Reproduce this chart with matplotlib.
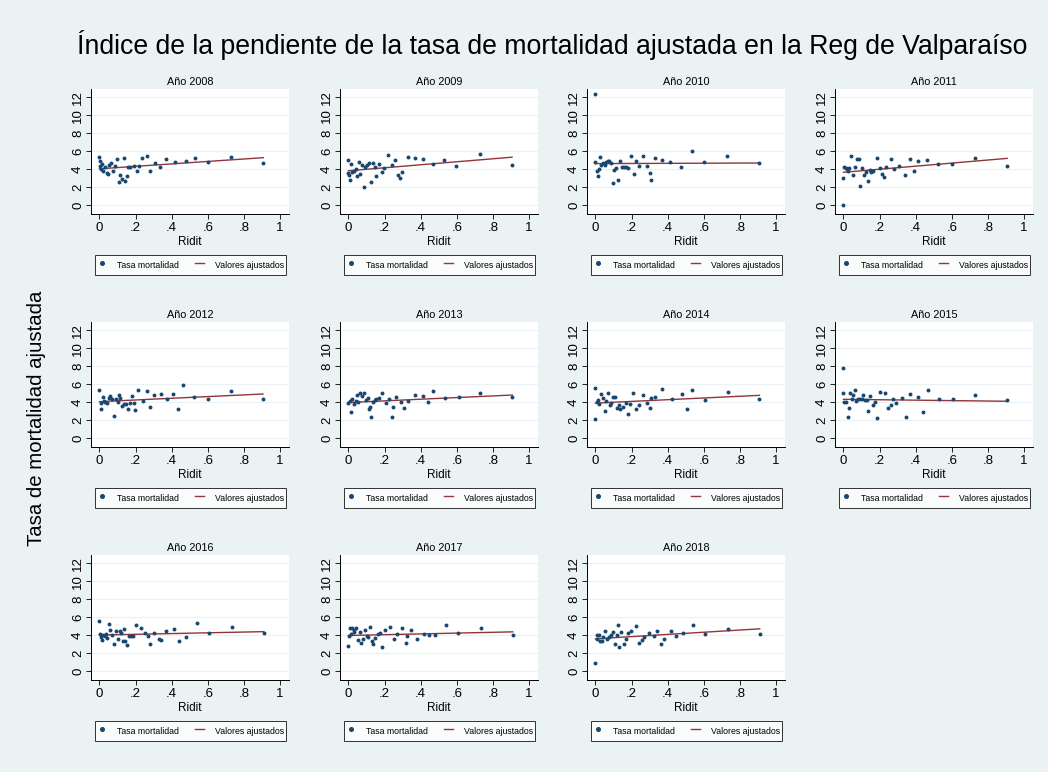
import numpy as np
import matplotlib
matplotlib.use('Agg')
import matplotlib.pyplot as plt
from matplotlib.lines import Line2D

plt.rcParams['font.family'] = ['Liberation Sans', 'DejaVu Sans']

# ridit (x) and adjusted mortality rate (y) per commune, one pair of lists per year
ridit_2008 = [0, 0.002, 0.004, 0.007, 0.013, 0.02, 0.031, 0.04, 0.048, 0.055, 0.064, 0.074, 0.086, 0.097, 0.107, 0.116, 0.123, 0.134, 0.143, 0.151, 0.158, 0.169, 0.19, 0.208, 0.219, 0.237, 0.265, 0.281, 0.307, 0.338, 0.368, 0.419, 0.478, 0.529, 0.599, 0.728, 0.908]
tasa_2008 = [5.37, 4.4, 4.9, 4.07, 4.6, 3.8, 4.2, 3.6, 3.5, 4.5, 4.67, 3.85, 4.37, 5.1, 2.6, 3.33, 2.9, 5.2, 2.7, 3.2, 4.2, 4.2, 4.37, 3.8, 4.4, 5.2, 5.5, 3.85, 4.74, 4.26, 5.1, 4.85, 4.96, 5.2, 4.85, 5.4, 4.74]

ridit_2009 = [0, 0, 0.004, 0.009, 0.015, 0.02, 0.03, 0.04, 0.048, 0.057, 0.066, 0.075, 0.084, 0.094, 0.103, 0.116, 0.125, 0.136, 0.145, 0.154, 0.169, 0.183, 0.198, 0.217, 0.239, 0.26, 0.277, 0.283, 0.297, 0.327, 0.367, 0.413, 0.47, 0.53, 0.598, 0.728, 0.906]
tasa_2009 = [5.0, 3.63, 3.33, 2.8, 4.6, 3.74, 3.8, 4.0, 3.26, 4.8, 3.44, 4.48, 2.04, 4.3, 4.44, 4.74, 2.55, 4.74, 4.3, 3.22, 4.63, 3.67, 4.19, 5.56, 4.48, 5.07, 3.33, 3.07, 3.7, 5.4, 5.26, 5.1, 4.6, 5.04, 4.4, 5.67, 4.44]

ridit_2010 = [0, 0, 0.007, 0.013, 0.018, 0.026, 0.033, 0.04, 0.05, 0.059, 0.068, 0.077, 0.086, 0.095, 0.105, 0.116, 0.127, 0.136, 0.149, 0.16, 0.171, 0.182, 0.198, 0.213, 0.224, 0.239, 0.262, 0.288, 0.303, 0.308, 0.332, 0.371, 0.415, 0.472, 0.532, 0.6, 0.728, 0.908]
tasa_2010 = [4.77, 12.4, 3.85, 3.23, 4.0, 5.35, 4.5, 4.7, 4.5, 4.77, 4.96, 4.92, 4.65, 2.42, 3.92, 4.1, 2.8, 4.96, 4.23, 4.27, 4.23, 4.15, 5.42, 3.5, 4.96, 4.38, 5.42, 4.35, 3.54, 2.85, 5.2, 5.04, 4.85, 4.23, 6.04, 4.85, 5.5, 4.73]

ridit_2011 = [0, 0, 0.005, 0.013, 0.018, 0.024, 0.031, 0.042, 0.053, 0.064, 0.073, 0.084, 0.093, 0.104, 0.115, 0.125, 0.136, 0.145, 0.154, 0.165, 0.187, 0.205, 0.214, 0.225, 0.238, 0.264, 0.282, 0.306, 0.339, 0.368, 0.388, 0.414, 0.465, 0.526, 0.6, 0.729, 0.907]
tasa_2011 = [0.0, 3.07, 4.26, 4.19, 4.0, 3.8, 4.1, 5.48, 3.33, 4.26, 5.1, 5.1, 2.19, 4.19, 3.4, 3.7, 2.7, 3.93, 3.7, 3.8, 5.3, 4.19, 3.44, 3.15, 4.22, 5.19, 4.0, 4.33, 3.4, 5.19, 3.85, 4.93, 5.04, 4.63, 4.56, 5.3, 4.33]

ridit_2012 = [0, 0.006, 0.011, 0.017, 0.024, 0.033, 0.04, 0.05, 0.059, 0.07, 0.081, 0.09, 0.1, 0.108, 0.114, 0.123, 0.134, 0.145, 0.158, 0.169, 0.182, 0.193, 0.199, 0.215, 0.239, 0.263, 0.281, 0.303, 0.342, 0.373, 0.408, 0.436, 0.463, 0.524, 0.601, 0.728, 0.906]
tasa_2012 = [5.33, 3.26, 3.93, 4.6, 4.15, 4.04, 3.93, 4.52, 4.7, 4.37, 2.48, 4.4, 4.04, 4.82, 4.48, 3.6, 3.81, 3.85, 3.22, 3.93, 4.7, 3.93, 3.19, 5.33, 4.15, 5.22, 3.44, 4.78, 4.89, 4.4, 4.89, 3.26, 5.96, 4.6, 4.37, 5.3, 4.33]

ridit_2013 = [0, 0.006, 0.013, 0.02, 0.029, 0.039, 0.046, 0.053, 0.062, 0.073, 0.086, 0.095, 0.106, 0.114, 0.121, 0.127, 0.136, 0.145, 0.154, 0.169, 0.185, 0.207, 0.226, 0.239, 0.248, 0.266, 0.292, 0.306, 0.327, 0.367, 0.413, 0.44, 0.468, 0.536, 0.613, 0.73, 0.908]
tasa_2013 = [3.93, 4.15, 2.93, 4.37, 3.85, 4.15, 4.82, 4.0, 5.0, 4.7, 5.0, 4.22, 4.52, 3.3, 3.44, 2.33, 4.04, 4.22, 4.37, 4.48, 5.0, 3.93, 4.37, 2.41, 3.44, 4.63, 4.04, 3.37, 4.15, 4.82, 4.7, 4.04, 5.26, 4.44, 4.63, 5.07, 4.56]

ridit_2014 = [0, 0, 0.007, 0.015, 0.022, 0.029, 0.039, 0.05, 0.061, 0.072, 0.081, 0.088, 0.097, 0.11, 0.117, 0.128, 0.138, 0.15, 0.169, 0.18, 0.189, 0.207, 0.226, 0.239, 0.261, 0.286, 0.3, 0.306, 0.328, 0.367, 0.424, 0.48, 0.508, 0.536, 0.606, 0.732, 0.908]
tasa_2014 = [5.59, 2.11, 4.0, 4.26, 3.81, 4.93, 4.48, 3.04, 4.15, 5.0, 3.7, 3.89, 4.56, 4.59, 3.33, 3.7, 3.22, 3.44, 3.96, 2.74, 3.85, 5.0, 3.22, 3.67, 4.85, 3.96, 3.33, 4.52, 4.63, 5.44, 4.33, 4.96, 3.26, 5.33, 4.26, 5.11, 4.33]

ridit_2015 = [0, 0, 0.005, 0.013, 0.024, 0.031, 0.038, 0.048, 0.055, 0.062, 0.071, 0.082, 0.092, 0.103, 0.11, 0.121, 0.128, 0.136, 0.147, 0.161, 0.174, 0.185, 0.201, 0.229, 0.247, 0.262, 0.277, 0.293, 0.322, 0.344, 0.368, 0.414, 0.441, 0.469, 0.529, 0.606, 0.731, 0.907]
tasa_2015 = [7.78, 5.0, 4.04, 4.0, 2.33, 3.33, 5.0, 4.37, 4.82, 5.33, 4.19, 4.37, 4.37, 4.37, 4.78, 4.26, 4.26, 3.07, 4.74, 3.74, 4.07, 2.3, 5.15, 5.04, 3.41, 3.74, 4.33, 3.89, 4.44, 2.37, 4.93, 4.63, 2.93, 5.33, 4.41, 4.33, 4.82, 4.26]

ridit_2016 = [0, 0.004, 0.009, 0.015, 0.02, 0.028, 0.035, 0.04, 0.05, 0.059, 0.07, 0.081, 0.092, 0.101, 0.112, 0.121, 0.129, 0.136, 0.143, 0.151, 0.162, 0.176, 0.184, 0.202, 0.228, 0.252, 0.267, 0.278, 0.3, 0.329, 0.342, 0.368, 0.415, 0.441, 0.478, 0.539, 0.607, 0.733, 0.91]
tasa_2016 = [5.63, 4.11, 3.78, 3.48, 4.0, 3.89, 4.11, 3.67, 5.3, 4.63, 4.04, 3.0, 4.52, 3.59, 4.44, 4.26, 3.41, 4.67, 3.41, 2.96, 3.93, 3.93, 3.93, 5.11, 4.81, 4.3, 3.89, 3.07, 4.3, 3.56, 3.48, 4.52, 4.74, 3.41, 3.85, 5.37, 4.26, 4.89, 4.22]

ridit_2017 = [0, 0.004, 0.009, 0.015, 0.02, 0.028, 0.033, 0.042, 0.053, 0.062, 0.072, 0.083, 0.092, 0.101, 0.11, 0.119, 0.128, 0.136, 0.149, 0.163, 0.176, 0.187, 0.204, 0.231, 0.25, 0.268, 0.294, 0.317, 0.325, 0.347, 0.38, 0.417, 0.444, 0.481, 0.541, 0.609, 0.736, 0.91]
tasa_2017 = [2.81, 3.93, 4.78, 4.11, 4.78, 4.41, 4.63, 4.78, 3.52, 4.33, 3.15, 3.56, 4.63, 3.89, 3.78, 4.89, 3.33, 3.07, 3.7, 4.11, 4.22, 2.67, 4.56, 4.96, 3.63, 4.19, 4.85, 3.11, 3.93, 4.56, 3.56, 4.19, 4.04, 4.04, 5.11, 4.22, 4.85, 4.0]

ridit_2018 = [0, 0.006, 0.011, 0.017, 0.024, 0.035, 0.044, 0.053, 0.064, 0.075, 0.084, 0.095, 0.106, 0.117, 0.125, 0.13, 0.141, 0.156, 0.167, 0.18, 0.198, 0.226, 0.242, 0.255, 0.27, 0.297, 0.323, 0.343, 0.365, 0.382, 0.417, 0.444, 0.483, 0.543, 0.609, 0.736, 0.91]
tasa_2018 = [0.93, 3.63, 4.04, 4.0, 3.37, 3.37, 3.81, 4.52, 3.63, 3.81, 4.0, 4.41, 3.07, 4.0, 5.11, 2.74, 4.33, 3.04, 3.63, 4.3, 4.52, 5.04, 3.19, 3.48, 3.85, 4.26, 3.96, 4.52, 3.04, 3.63, 4.44, 3.93, 4.22, 5.15, 4.19, 4.74, 4.11]

years = [2008, 2009, 2010, 2011, 2012, 2013, 2014, 2015, 2016, 2017, 2018]
ridits = [ridit_2008, ridit_2009, ridit_2010, ridit_2011, ridit_2012, ridit_2013,
          ridit_2014, ridit_2015, ridit_2016, ridit_2017, ridit_2018]
tasas = [tasa_2008, tasa_2009, tasa_2010, tasa_2011, tasa_2012, tasa_2013,
         tasa_2014, tasa_2015, tasa_2016, tasa_2017, tasa_2018]

xticks = [0, 0.2, 0.4, 0.6, 0.8, 1]
xticklabels = ['0', '.2', '.4', '.6', '.8', '1']
yticks = [0, 2, 4, 6, 8, 10, 12]

# stata s2color look
bg = '#EAF2F3'
navy = '#1A476F'
maroon = '#90353B'

W, H = 1048, 772
fig = plt.figure(figsize=(W / 100, H / 100), dpi=100, facecolor=bg)

def box(left, top, width, height):
    return [left / W, 1 - (top + height) / H, width / W, height / H]

col_left = [91, 340, 587, 835]
row_top = [89, 322, 555]
pw, ph = 198, 125

for i, year in enumerate(years):
    r, c = divmod(i, 4)
    left, top = col_left[c], row_top[r]
    ax = fig.add_axes(box(left, top, pw, ph))
    ax.set_facecolor('white')

    x = np.array(ridits[i])
    y = np.array(tasas[i])
    ax.scatter(x, y, s=8, color=navy, linewidths=0, zorder=3)

    # linear fit over the observed range
    b, a = np.polyfit(x, y, 1)
    xf = np.array([x.min(), x.max()])
    ax.plot(xf, a + b * xf, color=maroon, lw=1.0, zorder=2)

    ax.set_xlim(-0.047, 1.05)
    ax.set_ylim(-0.97, 12.92)
    ax.set_xticks(xticks)
    ax.set_xticklabels(xticklabels)
    ax.set_yticks(yticks)
    ax.set_yticklabels([str(v) for v in yticks], rotation=90, va='center')
    ax.tick_params(labelsize=9.5, length=3.5, width=0.6, pad=1.5, color='black')
    ax.tick_params(axis='x', pad=2.5)
    ax.grid(axis='y', color=bg, lw=0.9)
    ax.set_axisbelow(True)
    for s in ['top', 'right']:
        ax.spines[s].set_visible(False)
    for s in ['left', 'bottom']:
        ax.spines[s].set_linewidth(0.7)
    ax.set_xlabel('Ridit', fontsize=8.5, labelpad=1.5)
    ax.set_title('Año %d' % year, fontsize=7.8, pad=3)

    handles = [Line2D([], [], marker='o', ls='none', color=navy, markersize=2.6),
               Line2D([], [], color=maroon, lw=1.0)]
    leg = ax.legend(handles, ['Tasa mortalidad', 'Valores ajustados'], ncol=2,
                    loc='lower left', mode='expand',
                    bbox_to_anchor=box(left + 4, top + ph + 41, 191, 20),
                    bbox_transform=fig.transFigure, fontsize=6.3,
                    frameon=True, fancybox=False, edgecolor='black',
                    borderaxespad=0, handlelength=1.0, handletextpad=1.25,
                    handleheight=2.3, borderpad=0.25)
    leg.get_frame().set_linewidth(0.7)

fig.text(552 / W, 1 - 45 / H,
         'Índice de la pendiente de la tasa de mortalidad ajustada en la Reg de Valparaíso',
         ha='center', va='center', fontsize=19.2)
fig.text(37 / W, 1 - 418 / H, 'Tasa de mortalidad ajustada', rotation=90,
         ha='center', va='center', fontsize=14.7)

plt.savefig('out.png', dpi=100, facecolor=bg)
